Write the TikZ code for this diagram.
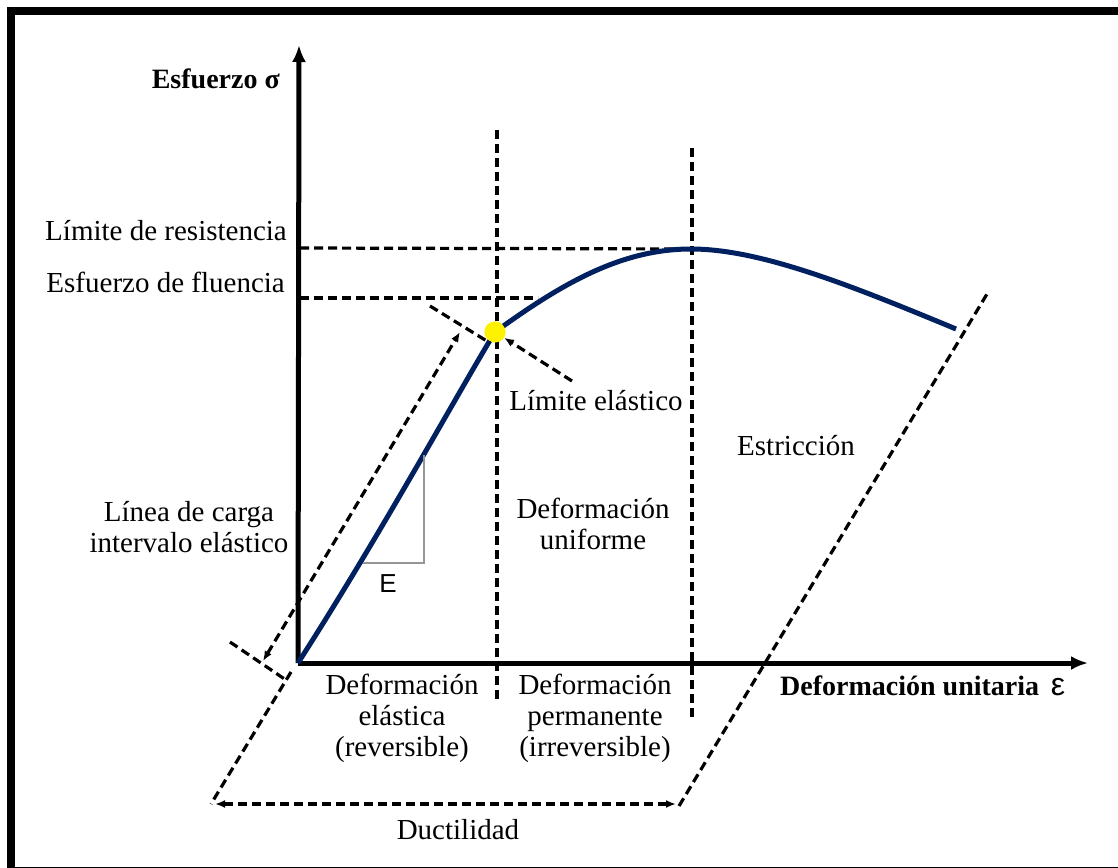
\documentclass[tikz,border=0pt]{standalone}
\usepackage{fontspec}
\setmainfont{Liberation Serif}
\setsansfont{Liberation Sans}
\usetikzlibrary{arrows.meta}
\definecolor{curveblue}{RGB}{0,32,96}
\definecolor{slopegray}{RGB}{150,150,150}
\begin{document}
\begin{tikzpicture}
    [
    x=1pt,y=-1pt,
    every node/.style={font=\fontsize{29}{31}\selectfont,inner sep=0pt},
    axis/.style={line width=5pt,-{Latex[length=17pt,width=14pt]}},
    guide/.style={line width=3.2pt,dash pattern=on 9pt off 5pt},
    dimarrow/.style={guide,{Latex[length=10pt,width=8pt]}-{Latex[length=10pt,width=8pt]}},
    pointer/.style={guide,-{Latex[length=10pt,width=8pt]}},
    curve/.style={line width=5pt,curveblue},
    yieldpt/.style={circle,fill=yellow,minimum size=21pt},
    slope/.style={line width=2.8pt,slopegray},
    axislabel/.style={font=\fontsize{28}{31}\selectfont\bfseries},
    region/.style={align=center}
    ]
    \useasboundingbox (0,0) rectangle (1118,867);
    \clip (0,0) rectangle (1118,867);
    \draw [line width=8pt] (11,11) rectangle (1140,871);
    % axes
    \coordinate (O) at (298,663);
    \coordinate (ytip) at (299,45);
    \coordinate (xtip) at (1088,663);
    \draw [axis] (O) -- (ytip);
    \draw [axis] (O) -- (xtip);
    \node (sigma) at (280,79) [axislabel,anchor=east] {Esfuerzo σ};
    \node (eps) at (780,686) [axislabel,anchor=west] {Deformación unitaria \,{\sffamily\mdseries\fontsize{32}{32}\selectfont ε}};
    % guide lines
    \node (Y) at (495,332) [yieldpt] {};
    \coordinate (M) at (691,249);
    \coordinate (F) at (956,329);
    \coordinate (res0) at (300,248);
    \coordinate (flu0) at (300,298);
    \coordinate (flu1) at (538,298);
    \coordinate (v1a) at (497,130);
    \coordinate (v1b) at (497,700);
    \coordinate (v2a) at (692,148);
    \coordinate (v2b) at (692,717);
    \draw [guide] (res0) -- (M);
    \draw [guide] (flu0) -- (flu1);
    \draw [guide] (v1a) -- (v1b);
    \draw [guide] (v2a) -- (v2b);
    \node (res) at (287,231) [anchor=east] {Límite de resistencia};
    \node (flu) at (285,282) [anchor=east] {Esfuerzo de fluencia};
    % stress-strain curve
    \draw [curve] (O) .. controls (382,532) and (455,398) .. (Y.center)
                      .. controls (560,285) and (620,249) .. (M)
                      .. controls (760,249) and (850,285) .. (F);
    \node at (Y) [yieldpt] {};
    % slope triangle
    \coordinate (s1) at (363,563);
    \coordinate (s2) at (424,563);
    \coordinate (s3) at (424,455);
    \draw [slope] (s1) -- (s2) -- (s3);
    \node (E) at (388,584) [font=\fontsize{26}{26}\sffamily] {E};
    % elastic loading line
    \coordinate (c0a) at (230,642);
    \coordinate (c0b) at (286,680);
    \coordinate (c1a) at (430,306);
    \coordinate (c1b) at (490,343);
    \coordinate (ca) at (263,661);
    \coordinate (cb) at (460,332);
    \draw [guide] (c0a) -- (c0b);
    \draw [guide] (c1a) -- (c1b);
    \draw [dimarrow] (ca) -- (cb);
    \node (carga) at (189,527) [region] {Línea de carga\\intervalo elástico};
    % elastic limit
    \coordinate (le) at (572,381);
    \draw [pointer] (le) -- (Y);
    \node (lim) at (596,401) {Límite elástico};
    \node (unif) at (593,524) [region] {Deformación\\uniforme};
    \node (estr) at (796,446) {Estricción};
    \node (elas) at (402,718) [region] {Deformación\\elástica\\(reversible)};
    \node (perm) at (595,718) [region] {Deformación\\permanente\\(irreversible)};
    % ductility
    \coordinate (d0) at (291,672);
    \coordinate (d1) at (211,804);
    \coordinate (d2) at (679,806);
    \coordinate (d3) at (987,294);
    \coordinate (da) at (215,804);
    \coordinate (db) at (676,804);
    \draw [guide] (d0) -- (d1);
    \draw [guide] (d2) -- (d3);
    \draw [dimarrow] (da) -- (db);
    \node (duct) at (458,830) {Ductilidad};
\end{tikzpicture}
\end{document}
